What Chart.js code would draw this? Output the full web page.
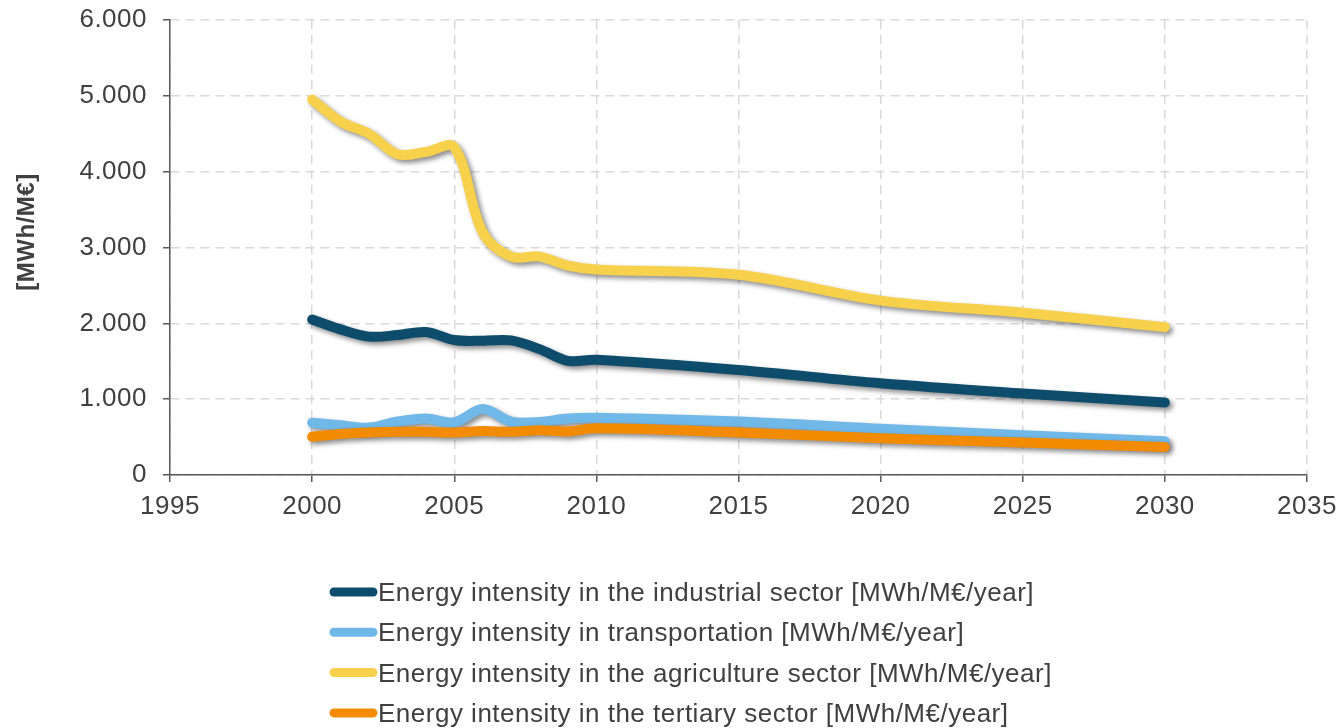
<!DOCTYPE html>
<html>
<head>
<meta charset="utf-8">
<title>Energy intensity by sector</title>
<script src="https://cdn.jsdelivr.net/npm/chart.js@4.4.1/dist/chart.umd.min.js"></script>
<style>
  html, body { margin: 0; padding: 0; background: #ffffff; }
  #wrap { width: 1342px; height: 728px; }
</style>
</head>
<body>
<div id="wrap"><canvas id="c" width="1342" height="728"></canvas></div>
<script>
// Years with data (annual to 2010, then five-year steps)
const years = [2000, 2001, 2002, 2003, 2004, 2005, 2006, 2007, 2008, 2009, 2010, 2015, 2020, 2025, 2030];

// Energy intensity series [MWh/M€/year]
const industrial  = [2050, 1920, 1825, 1845, 1885, 1780, 1770, 1775, 1660, 1505, 1520, 1385, 1210, 1075, 955];
const transport   = [690, 655, 625, 705, 745, 695, 870, 705, 700, 745, 755, 705, 610, 525, 445];
const agriculture = [4950, 4660, 4500, 4230, 4260, 4320, 3200, 2880, 2880, 2760, 2710, 2640, 2300, 2140, 1950];
const tertiary    = [505, 540, 560, 570, 570, 560, 580, 570, 590, 575, 615, 560, 485, 430, 370];

const seriesLabels = [
  'Energy intensity in the industrial sector [MWh/M€/year]',
  'Energy intensity in transportation [MWh/M€/year]',
  'Energy intensity in the agriculture sector [MWh/M€/year]',
  'Energy intensity in the tertiary sector [MWh/M€/year]'
];
const seriesColors = ['#0e4c6c', '#70b8e8', '#f7d14b', '#f38b00'];

// Axis ranges and tick steps
const xMin = 1995, xMax = 2035, xStep = 5;
const yMin = 0, yMax = 6000, yStep = 1000;
const yTitle = '[MWh/M€]';

const FONT = "'Liberation Sans', Arial, sans-serif";
const TEXT = '#404040';
const AXIS = '#595959';
const GRID = '#d9d9d9';
const SPACING = '0.5px';

function pairs(values) {
  return years.map((y, i) => ({ x: y, y: values[i] }));
}

// Draw order: the tertiary line sits on top of transportation
const drawOrder = [3, 2, 1, 0];
const datasets = [industrial, transport, agriculture, tertiary].map((vals, i) => ({
  label: seriesLabels[i],
  data: pairs(vals),
  borderColor: seriesColors[i],
  backgroundColor: seriesColors[i],
  borderWidth: 10,
  borderCapStyle: 'round',
  borderJoinStyle: 'round',
  pointRadius: 0,
  pointHoverRadius: 0,
  tension: 0.35,
  fill: false,
  order: drawOrder[i]
}));

function thousands(v) {
  return String(v).replace(/\B(?=(\d{3})+(?!\d))/g, '.');
}

// Slightly widened text spacing
const spacingPlugin = {
  id: 'spacing',
  beforeLayout(chart) { chart.ctx.letterSpacing = SPACING; },
  beforeDraw(chart) { chart.ctx.letterSpacing = SPACING; }
};

// Soft drop shadow under each line
const shadowPlugin = {
  id: 'lineShadow',
  beforeDatasetDraw(chart) {
    const ctx = chart.ctx;
    ctx.save();
    ctx.shadowColor = 'rgba(0,0,0,0.45)';
    ctx.shadowBlur = 5;
    ctx.shadowOffsetX = 3;
    ctx.shadowOffsetY = 3;
  },
  afterDatasetDraw(chart) {
    chart.ctx.restore();
  }
};

// Rotated unit label left of the value axis
const yTitlePlugin = {
  id: 'yTitle',
  afterDraw(chart) {
    const ctx = chart.ctx;
    ctx.save();
    ctx.letterSpacing = SPACING;
    ctx.translate(27, 232);
    ctx.rotate(-Math.PI / 2);
    ctx.font = 'bold 24px ' + FONT;
    ctx.fillStyle = TEXT;
    ctx.textAlign = 'center';
    ctx.textBaseline = 'middle';
    ctx.fillText(yTitle, 0, 0);
    ctx.restore();
  }
};

// Stacked legend below the plot, one series per row
const stackedLegend = {
  id: 'stackedLegend',
  afterDraw(chart) {
    const ctx = chart.ctx;
    const x0 = 334, x1 = 373, textX = 378, firstY = 594, rowGap = 40.3;
    ctx.save();
    ctx.letterSpacing = SPACING;
    ctx.font = '26px ' + FONT;
    ctx.textBaseline = 'middle';
    ctx.textAlign = 'left';
    chart.data.datasets.forEach((ds, i) => {
      const y = firstY + i * rowGap;
      ctx.strokeStyle = ds.borderColor;
      ctx.lineWidth = 9;
      ctx.lineCap = 'round';
      ctx.beginPath();
      ctx.moveTo(x0, y - 2);
      ctx.lineTo(x1, y - 2);
      ctx.stroke();
      ctx.fillStyle = TEXT;
      ctx.fillText(ds.label, textX, y);
    });
    ctx.restore();
  }
};

new Chart(document.getElementById('c'), {
  type: 'line',
  data: { datasets },
  plugins: [spacingPlugin, shadowPlugin, yTitlePlugin, stackedLegend],
  options: {
    responsive: false,
    devicePixelRatio: 1,
    animation: false,
    layout: { padding: { left: 0, right: 35, top: 20, bottom: 0 } },
    plugins: {
      legend: { display: false },
      tooltip: { enabled: false }
    },
    scales: {
      x: {
        type: 'linear',
        min: xMin,
        max: xMax,
        ticks: {
          stepSize: xStep,
          padding: 9,
          color: TEXT,
          font: { family: FONT, size: 26 },
          callback: v => String(v),
          maxRotation: 0
        },
        grid: {
          color: GRID,
          lineWidth: 1.5,
          tickLength: 7,
          tickColor: AXIS,
          tickWidth: 1.5,
          tickBorderDash: []
        },
        border: { display: true, color: AXIS, width: 1.5, dash: [9, 6] },
        afterFit(scale) {
          scale.height = 253;
          scale.paddingLeft = 0;
          scale.paddingRight = 0;
        }
      },
      y: {
        min: yMin,
        max: yMax,
        ticks: {
          stepSize: yStep,
          padding: 16,
          color: TEXT,
          font: { family: FONT, size: 26 },
          callback: v => thousands(v)
        },
        grid: {
          color: GRID,
          lineWidth: 1.5,
          tickLength: 7,
          tickColor: AXIS,
          tickWidth: 1.5,
          tickBorderDash: []
        },
        border: { display: true, color: AXIS, width: 1.5, dash: [9, 6] },
        afterFit(scale) {
          scale.width = 170;
          scale.paddingTop = 0;
          scale.paddingBottom = 0;
        }
      }
    }
  }
});
</script>
</body>
</html>
